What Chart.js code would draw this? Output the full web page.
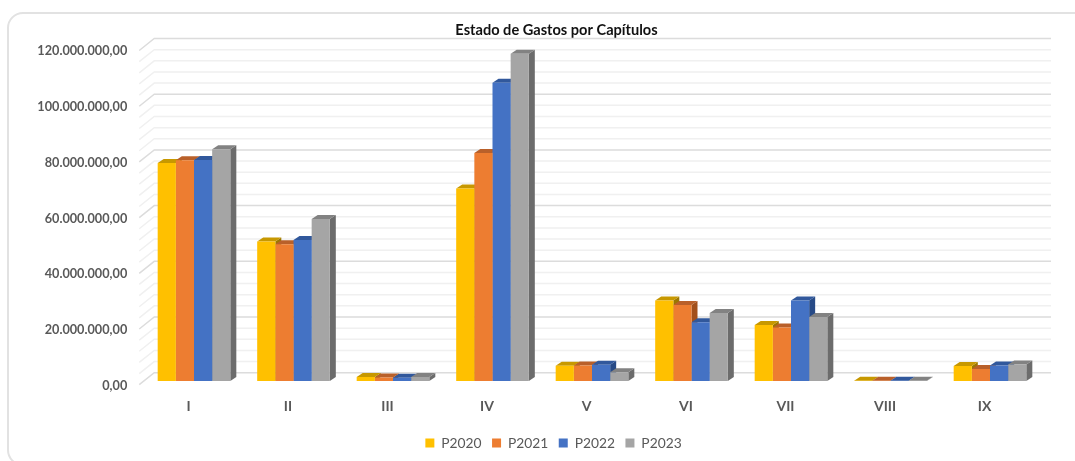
<!DOCTYPE html>
<html lang="es">
<head>
<meta charset="utf-8">
<title>Estado de Gastos por Capítulos</title>
<script src="https://cdn.jsdelivr.net/npm/chart.js@4/dist/chart.umd.min.js"></script>
<style>
    html, body { margin: 0; padding: 0; background: #fff; overflow: hidden; }
    #card { position: absolute; left: 7px; top: 12px; width: 1200px; height: 450px; border: 2px solid #e2e2e2; border-radius: 16px; }
    #chart { position: absolute; left: 0; top: 0; }
</style>
</head>
<body>
<div id="card"></div>
<canvas id="chart" width="1075" height="461"></canvas>
<script>
const chapters = ['I', 'II', 'III', 'IV', 'V', 'VI', 'VII', 'VIII', 'IX'];
const p2020 = [78300000, 50100000, 1400000, 69100000, 5500000, 28900000, 20100000, 100000, 5400000];
const p2021 = [79300000, 49100000, 1300000, 81900000, 5600000, 27300000, 19200000, 100000, 4300000];
const p2022 = [79400000, 50600000, 1200000, 107100000, 5800000, 21100000, 28900000, 100000, 5600000];
const p2023 = [83200000, 58200000, 1400000, 117500000, 3100000, 24400000, 23000000, 100000, 5900000];

const seriesNames = ['P2020', 'P2021', 'P2022', 'P2023'];
const seriesValues = [p2020, p2021, p2022, p2023];
const frontColors = ['#FFC000', '#ED7D31', '#4472C4', '#A5A5A5'];
const topColors = ['#C79800', '#B9602A', '#31589C', '#828282'];
const sideColors = ['#9C7700', '#A2501C', '#274A86', '#6C6C6C'];

const MAJOR_STEP = 20000000;
const MINOR_STEP = 4000000;

// depth of the fake 3D box, measured from the plane the bars stand on
const BAR_DX = 6, BAR_DY = 4;
const WALL_DX = 11, WALL_DY = 8.3;
const FLOOR_DX = 4, FLOOR_DY = 3.7;
const WALL_RIGHT = 1051;

// the title and legend sit right of the canvas centre in the original
const TITLE_SHIFT = 24, LEGEND_SHIFT = 21;

function poly(ctx, color, points) {
    ctx.fillStyle = color;
    ctx.beginPath();
    points.forEach(([x, y], i) => i ? ctx.lineTo(x, y) : ctx.moveTo(x, y));
    ctx.closePath();
    ctx.fill();
}

const fake3d = {
    id: 'fake3d',
    afterLayout(chart) {
        chart.titleBlock.left += TITLE_SHIFT;
        chart.titleBlock.right += TITLE_SHIFT;
        chart.legend.left += LEGEND_SHIFT;
        chart.legend.right += LEGEND_SHIFT;
    },
    beforeDatasetsDraw(chart) {
        const {ctx, scales} = chart;
        const left = scales.x.left;

        ctx.save();
        ctx.lineWidth = 1.5;
        scales.y.ticks.forEach(tick => {
            const y = scales.y.getPixelForValue(tick.value);
            ctx.strokeStyle = tick.value % MAJOR_STEP === 0 ? '#dcdcdc' : '#f0f0f0';
            ctx.beginPath();
            ctx.moveTo(left - FLOOR_DX - 1, y + FLOOR_DY);
            ctx.lineTo(left + WALL_DX - 1, y - WALL_DY);
            ctx.lineTo(WALL_RIGHT, y - WALL_DY);
            ctx.stroke();
        });
        ctx.restore();

        // side and top faces go first, the library paints the front faces over them
        chapters.forEach((name, i) => {
            seriesValues.forEach((values, s) => {
                const bar = chart.getDatasetMeta(s).data[i];
                const x0 = bar.x - bar.width / 2, x1 = bar.x + bar.width / 2;
                poly(ctx, sideColors[s], [[x1, bar.y], [x1 + BAR_DX, bar.y - BAR_DY], [x1 + BAR_DX, bar.base - BAR_DY], [x1, bar.base]]);
                poly(ctx, topColors[s], [[x0, bar.y], [x0 + BAR_DX, bar.y - BAR_DY], [x1 + BAR_DX, bar.y - BAR_DY], [x1, bar.y]]);
            });
        });
    }
};

new Chart(document.getElementById('chart'), {
    type: 'bar',
    data: {
        labels: chapters,
        datasets: seriesNames.map((name, s) => ({
            label: name,
            data: seriesValues[s],
            backgroundColor: frontColors[s],
            categoryPercentage: 0.73,
            barPercentage: 1
        }))
    },
    plugins: [fake3d],
    options: {
        responsive: false,
        animation: false,
        layout: {
            padding: {left: 25.25, right: 35.25, top: 13, bottom: 1}
        },
        plugins: {
            title: {
                display: true,
                text: 'Estado de Gastos por Capítulos',
                color: '#111',
                font: {family: 'Lato', size: 14.6, weight: 'bold'},
                padding: {top: 9, bottom: 7.3}
            },
            legend: {
                position: 'bottom',
                labels: {
                    color: '#595959',
                    font: {family: 'Lato', size: 13.8},
                    boxWidth: 9,
                    boxHeight: 9,
                    padding: 10.5
                }
            },
            tooltip: {enabled: false}
        },
        scales: {
            x: {
                grid: {display: false, drawTicks: false},
                border: {display: false},
                afterFit(scale) { scale.height = 44.7; },
                ticks: {
                    color: '#595959',
                    font: {family: 'Lato', size: 14, weight: 'bold'},
                    padding: 17.4,
                    labelOffset: -5.5,
                    maxRotation: 0
                }
            },
            y: {
                min: 0,
                max: 120000000,
                grid: {display: false, drawTicks: false},
                border: {display: false},
                afterFit(scale) { scale.width = 119; },
                ticks: {
                    stepSize: MINOR_STEP,
                    autoSkip: false,
                    color: '#595959',
                    font: {family: 'Lato', size: 12.7, weight: 'bold'},
                    padding: 17,
                    labelOffset: 4.5,
                    callback(value) {
                        if (value % MAJOR_STEP !== 0) return '';
                        return value.toLocaleString('es-ES', {minimumFractionDigits: 2, maximumFractionDigits: 2});
                    }
                }
            }
        }
    }
});
</script>
</body>
</html>
